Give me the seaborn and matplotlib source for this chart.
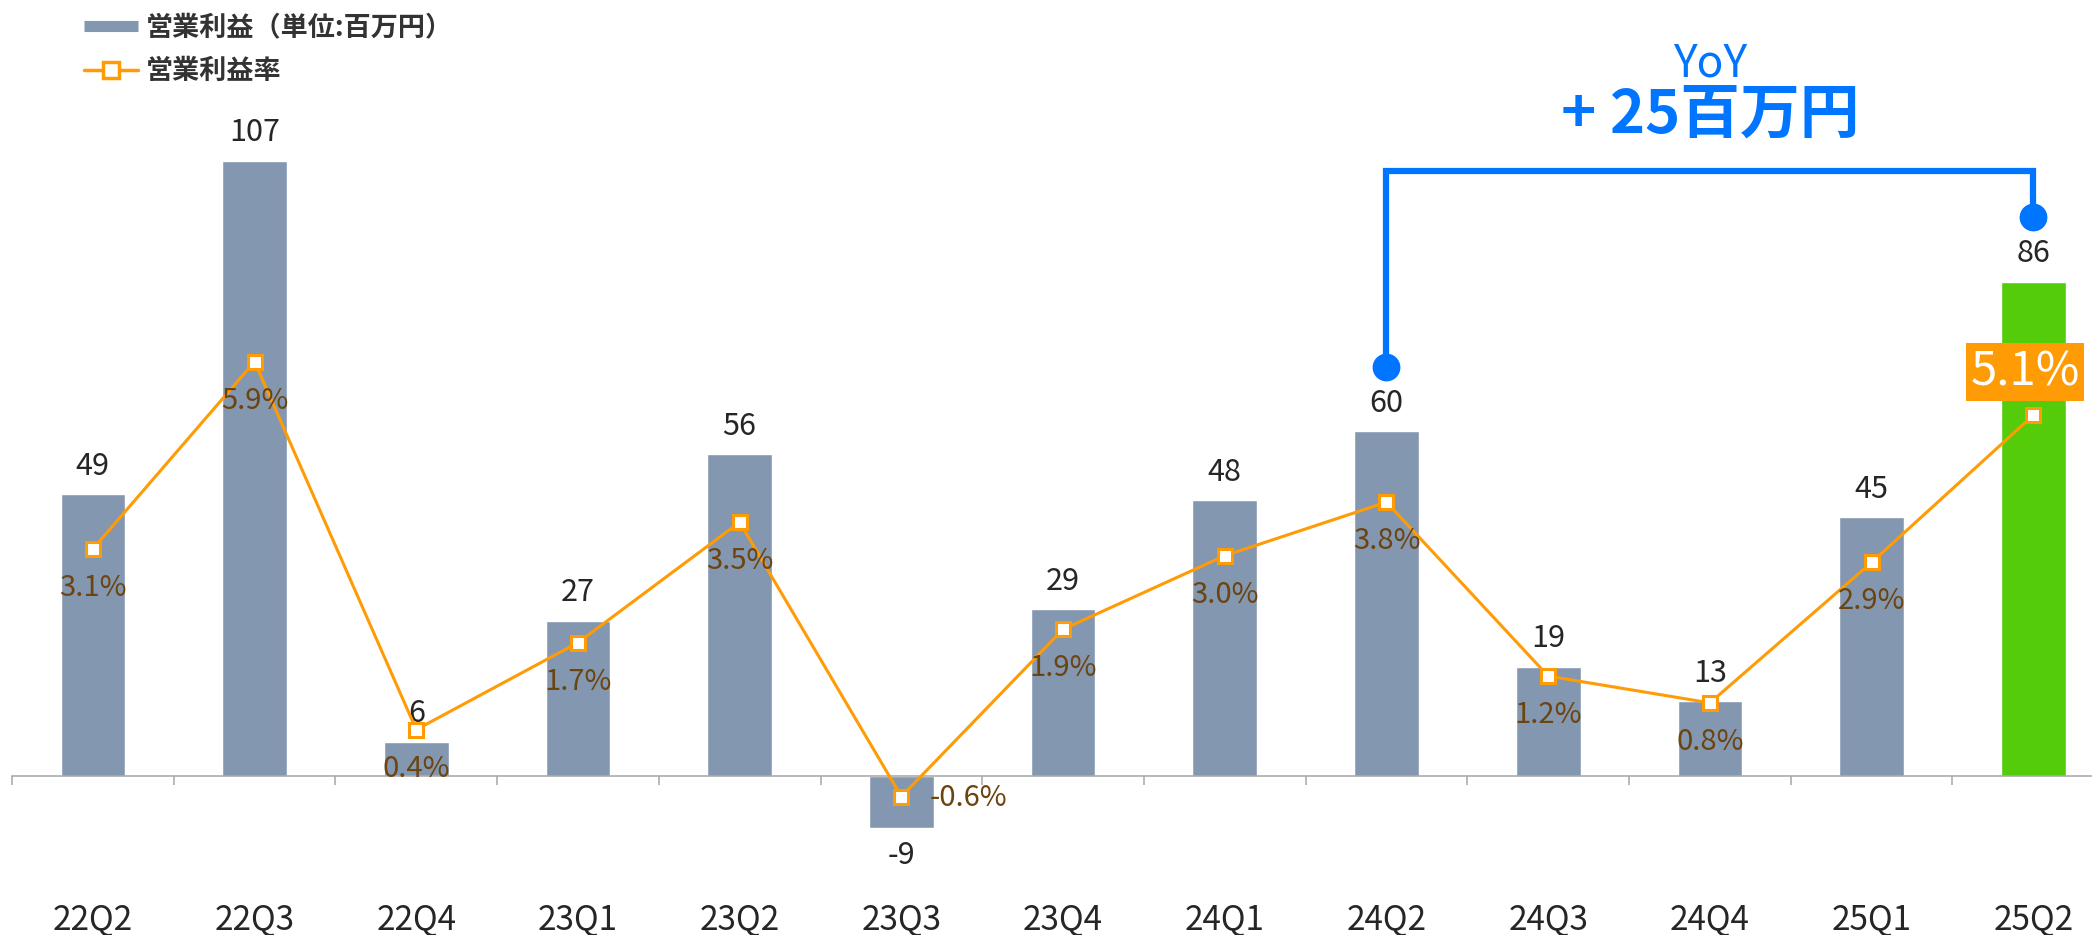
"""Operating profit by quarter with margin line (recreated chart)."""
import matplotlib
matplotlib.use("Agg")
import matplotlib.pyplot as plt
import numpy as np
import pandas as pd
import seaborn as sns
from matplotlib.lines import Line2D

quarters = ["22Q2", "22Q3", "22Q4", "23Q1", "23Q2", "23Q3", "23Q4",
            "24Q1", "24Q2", "24Q3", "24Q4", "25Q1", "25Q2"]
profit = [49, 107, 6, 27, 56, -9, 29, 48, 60, 19, 13, 45, 86]
margin = [3.1, 5.9, 0.4, 1.7, 3.5, -0.6, 1.9, 3.0, 3.8, 1.2, 0.8, 2.9, 5.1]
yoy_from, yoy_to = "24Q2", "25Q2"
yoy_text = "+ 25百万円"

BAR_GRAY = "#8497B0"
BAR_GREEN = "#55CC0A"
ORANGE = "#FF9B05"
BLUE = "#0075FF"
PCT_BROWN = "#6B4410"
TEXT_DARK = "#262626"

sns.set_style("white")
plt.rcParams["font.family"] = ["Noto Sans CJK JP", "DejaVu Sans"]

df = pd.DataFrame({"quarter": quarters, "profit": profit, "margin": margin})
palette = [BAR_GREEN if q == yoy_to else BAR_GRAY for q in quarters]

fig = plt.figure(figsize=(20.92, 9.35), dpi=100)
ax = fig.add_axes([12 / 2092, 0, 1 - 12 / 2092, 1])

sns.barplot(data=df, x="quarter", y="profit", hue="quarter", palette=palette,
            width=0.4, saturation=1, legend=False, ax=ax)
ax.set_xlabel("")
ax.set_ylabel("")

for s in ["top", "left", "right"]:
    ax.spines[s].set_visible(False)
ax.spines["bottom"].set_position(("data", 0))
ax.spines["bottom"].set_color("#a6a6a6")
ax.spines["bottom"].set_linewidth(1.1)
ax.set_yticks([])
ax.set_xticks(range(len(quarters)), quarters)
ax.set_xticks(np.arange(-0.5, len(quarters), 1), minor=True)
ax.tick_params(axis="x", which="major", length=0, pad=91, labelsize=24,
               labelcolor=TEXT_DARK)
ax.tick_params(axis="x", which="minor", length=6.5, width=1.1, color="#a6a6a6",
               direction="out", bottom=True)

for i, v in enumerate(profit):
    off = 20 if v >= 0 else -20
    ax.annotate(f"{v}", (i, v), xytext=(0, off), textcoords="offset points",
                ha="center", va="center", fontsize=22, color=TEXT_DARK)

# margin line on a second axis
ax2 = ax.twinx()
sns.lineplot(x=np.arange(len(quarters)), y=margin, ax=ax2, color=ORANGE, lw=2.2,
             marker="s", markersize=10, markerfacecolor="white",
             markeredgecolor=ORANGE, markeredgewidth=2.2)
ax2.set_yticks([])
ax2.set_ylabel("")
for s in ax2.spines.values():
    s.set_visible(False)

for i, m in enumerate(margin):
    q = quarters[i]
    if q == yoy_to:
        ax2.annotate(f"{m:.1f}%", (i, m), xytext=(-6, 31), textcoords="offset points",
                     ha="center", va="center", fontsize=34, color="white",
                     bbox=dict(boxstyle="square,pad=0.1", fc=ORANGE, ec="none"))
    elif m < 0:
        ax2.annotate(f"{m:.1f}%", (i, m), xytext=(20, -1), textcoords="offset points",
                     ha="left", va="center", fontsize=21, color=PCT_BROWN)
    else:
        ax2.annotate(f"{m:.1f}%", (i, m), xytext=(0, -28), textcoords="offset points",
                     ha="center", va="center", fontsize=21, color=PCT_BROWN)

# YoY bracket
x0, x1 = quarters.index(yoy_from), quarters.index(yoy_to)
ax2.plot([x0, x0, x1, x1], [5.82, 8.75, 8.75, 8.06], color=BLUE, lw=4.5,
         solid_joinstyle="miter", solid_capstyle="butt")
ax2.plot([x0, x1], [5.82, 8.06], "o", color=BLUE, ms=19)
xm = (x0 + x1) / 2
ax.text(xm, 124.0, "YoY", ha="center", va="center", fontsize=32,
        color=BLUE)
ax.text(xm, 114.6, yoy_text, ha="center", va="center", fontsize=43,
        fontweight="bold", color=BLUE)

# limits last, after all autoscaling plots
ax.set_xlim(-0.5, 12.363)
ax.set_ylim(-27.65, 134.96)
ax2.set_ylim(-2.67, 11.306)

handles = [
    Line2D([], [], color=BAR_GRAY, lw=8, solid_capstyle="butt"),
    Line2D([], [], color=ORANGE, lw=2.5, marker="s", markersize=11,
           markerfacecolor="white", markeredgecolor=ORANGE, markeredgewidth=2.5),
]
fig.legend(handles, ["営業利益（単位:百万円）", "営業利益率"], loc="upper left",
           bbox_to_anchor=(84 / 2092, 1 - 13 / 935), frameon=False,
           prop={"size": 19.5, "weight": "bold"}, labelcolor="#333333",
           handlelength=2.0, handletextpad=0.3, labelspacing=0.6,
           borderpad=0, borderaxespad=0)

fig.savefig("out.png", dpi=100)
plt.close(fig)
